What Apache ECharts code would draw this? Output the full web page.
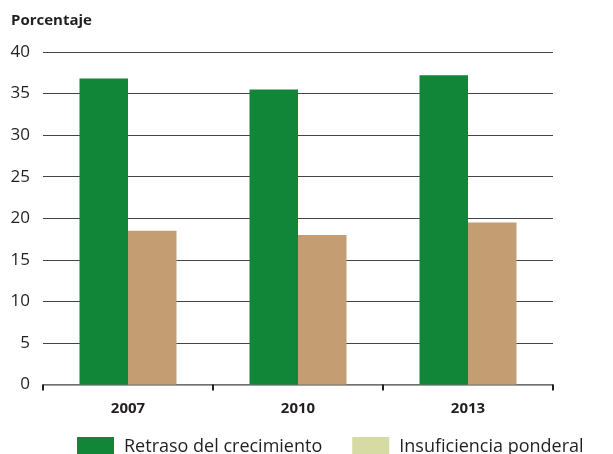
<!DOCTYPE html>
<html>
<head>
<meta charset="utf-8">
<script src="https://cdn.jsdelivr.net/npm/echarts@6/dist/echarts.min.js"></script>
<style>
  html, body { margin: 0; padding: 0; background: #fff; }
  #chart { width: 613px; height: 454px; }
</style>
</head>
<body>
<div id="chart"></div>
<script>
// datos
const years = ["2007", "2010", "2013"];
const retraso = [36.8, 35.5, 37.2];
const insuficiencia = [18.5, 18.0, 19.5];
const yTicks = [0, 5, 10, 15, 20, 25, 30, 35, 40];

const FONT = "'Open Sans', 'Noto Sans', sans-serif";
const chart = echarts.init(document.getElementById("chart"));

chart.setOption({
  animation: false,
  textStyle: { fontFamily: FONT, color: "#231f20" },
  title: {
    text: "Porcentaje",
    left: 6, top: 8,
    textStyle: { fontFamily: FONT, fontSize: 15, fontWeight: "bold", color: "#231f20" }
  },
  legend: {
    left: 77, top: 437,
    padding: 0,
    itemWidth: 37, itemHeight: 20,
    itemGap: 30,
    icon: "rect",
    textStyle: { fontFamily: FONT, fontSize: 18, color: "#231f20", padding: [2, 0, 0, 5] },
    data: [
      { name: "Retraso del crecimiento", itemStyle: { color: "#128638" } },
      { name: "Insuficiencia ponderal", itemStyle: { color: "#d5dba2" } }
    ]
  },
  grid: { left: 43, right: 60, top: 52, bottom: 69.5, containLabel: false },
  xAxis: {
    type: "category",
    data: years,
    axisLine: { lineStyle: { color: "#808080", width: 1.5 } },
    axisTick: { show: true, length: 6, lineStyle: { color: "#231f20", width: 2 } },
    axisLabel: { fontFamily: FONT, fontSize: 15, fontWeight: "bold", color: "#231f20", margin: 17 }
  },
  yAxis: {
    type: "value",
    min: yTicks[0], max: yTicks[yTicks.length - 1], interval: 5,
    axisLine: { show: false },
    axisTick: { show: false },
    axisLabel: { fontFamily: FONT, fontSize: 17, color: "#231f20", margin: 13 },
    splitLine: { lineStyle: { color: "#444", width: 1.2 } }
  },
  series: [
    {
      name: "Retraso del crecimiento",
      type: "bar",
      data: retraso,
      barWidth: 48.5,
      barGap: "0%",
      itemStyle: { color: "#128638" }
    },
    {
      name: "Insuficiencia ponderal",
      type: "bar",
      data: insuficiencia,
      barWidth: 48.5,
      itemStyle: { color: "#c49d72" }
    }
  ]
});
window.addEventListener("resize", () => chart.resize());
</script>
</body>
</html>
